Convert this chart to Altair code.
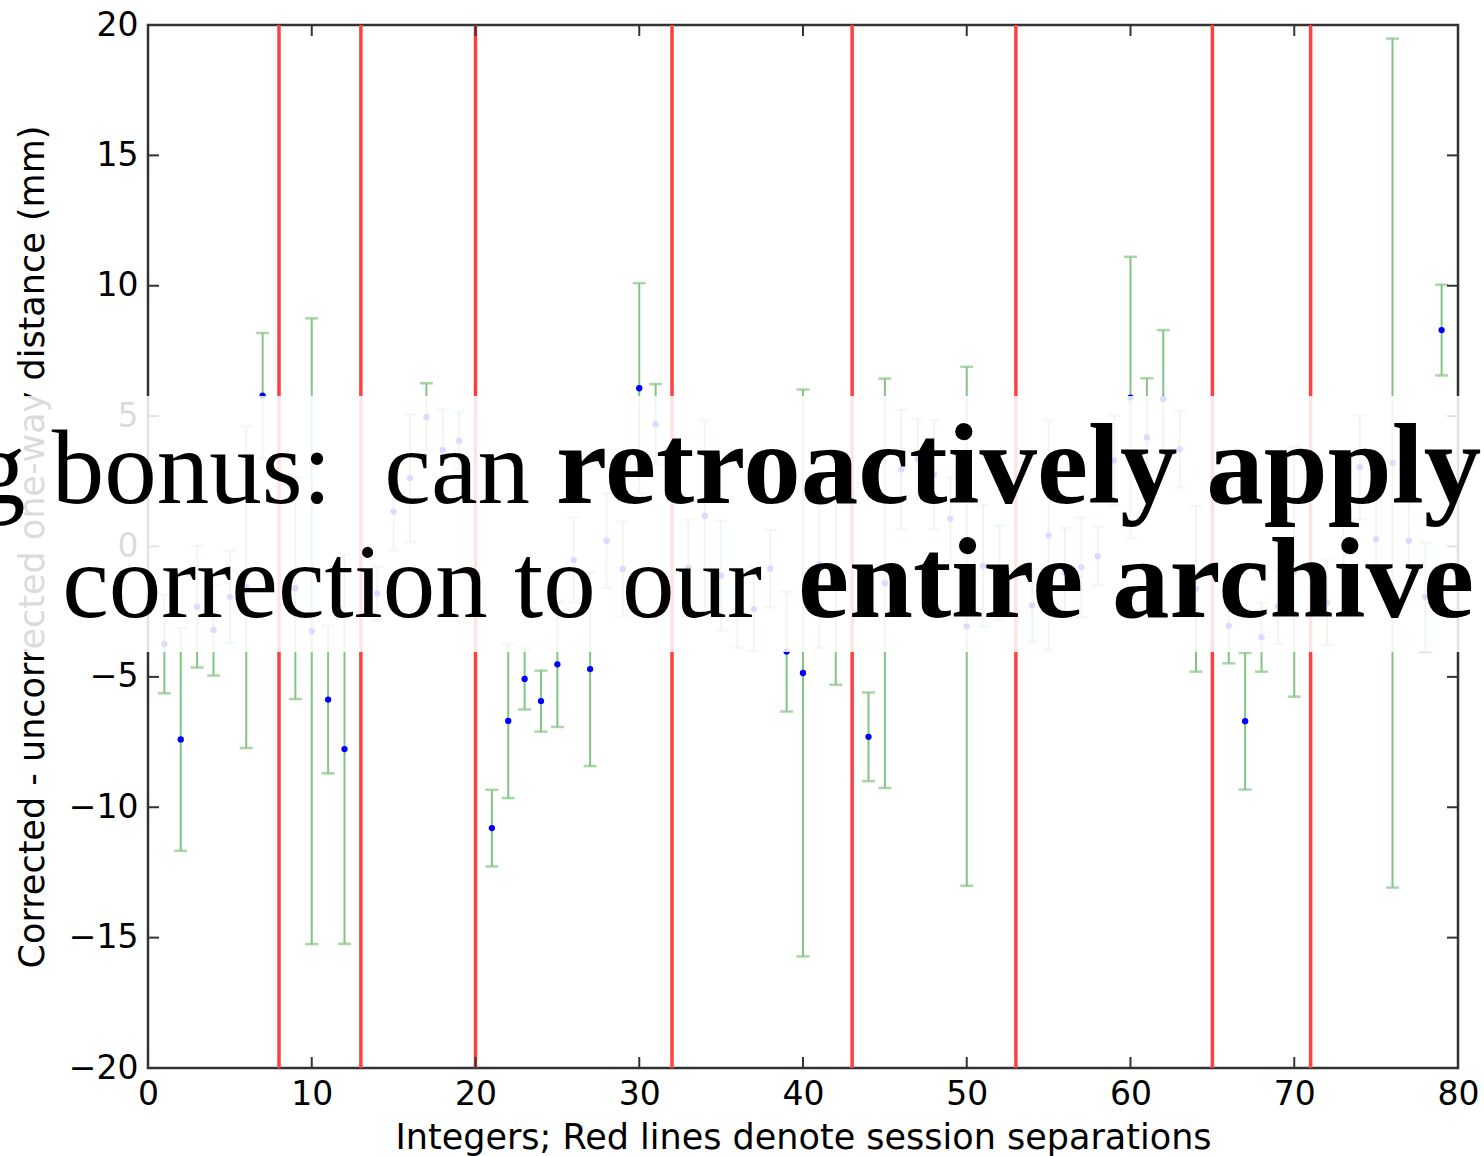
import altair as alt
import pandas as pd

# ---- data ----
x_idx = [1, 2, 3, 4, 5, 6, 7, 9, 10, 11, 12, 14, 15, 16, 17, 18, 19,
         21, 22, 23, 24, 25, 26, 27, 28, 29, 30, 31,
         33, 34, 35, 36, 37, 38, 39, 40, 41, 42,
         44, 45, 46, 47, 48, 49, 50, 51, 52,
         54, 55, 56, 57, 58, 59, 60, 61, 62, 63, 64,
         66, 67, 68, 69, 70,
         72, 73, 74, 75, 76, 77, 78, 79]
y_val = [-3.74, -7.40, -2.31, -3.20, -1.93, -1.56, 5.78, -1.60, -3.25, -5.87, -7.77, -1.80, 1.34, 2.62, 4.97, 3.70, 4.06,
         -10.80, -6.69, -5.08, -5.93, -4.52, -0.52, -4.70, 0.22, -0.86, 6.07, 4.69,
         -0.82, 1.18, -1.12, -2.41, -2.40, -0.85, -4.03, -4.85, -0.68, -1.60,
         -7.30, -1.41, 2.95, 3.36, 2.76, 1.06, -3.06, -0.74, -1.00,
         -2.26, 0.43, -1.00, -0.80, -0.37, 3.30, 5.71, 4.19, 5.66, 3.73, -1.62,
         -3.05, -6.70, -3.48, -2.29, -0.96,
         -2.15, -0.74, 3.04, 0.28, 3.20, 0.22, -1.93, 8.30]
y_err = [1.89, 4.27, 2.33, 1.75, 1.77, 6.17, 2.41, 4.25, 12.00, 2.83, 7.47, 1.03, 1.50, 2.45, 1.29, 1.57, 1.11,
         1.47, 2.96, 1.17, 1.17, 2.40, 1.64, 3.72, 1.82, 1.82, 4.03, 1.54,
         1.85, 3.65, 2.11, 1.47, 1.60, 1.49, 2.30, 10.87, 3.20, 3.70,
         1.70, 7.85, 2.29, 1.52, 2.09, 1.60, 9.95, 2.33, 1.80,
         1.40, 4.40, 1.70, 1.92, 1.13, 1.72, 5.40, 2.26, 2.64, 1.47, 3.18,
         1.43, 2.62, 1.32, 1.45, 4.80,
         1.63, 1.95, 2.00, 1.44, 16.28, 1.80, 2.09, 1.74]
session_breaks = [8, 13, 20, 32, 43, 53, 65, 71]
x_ticks = [0, 10, 20, 30, 40, 50, 60, 70, 80]
y_ticks = [-20, -15, -10, -5, 0, 5, 10, 15, 20]

x_title = "Integers; Red lines denote session separations"
y_title = "Corrected - uncorrected one-way distance (mm)"
line1_regular = "g bonus:\u00a0\u00a0can"
line1_bold = "retroactively apply"
line2_regular = "correction to our"
line2_bold = "entire archive"

# ---- tables built from the arrays ----
pts = pd.DataFrame({"x": x_idx, "y": y_val, "e": y_err})
pts["lo"] = pts["y"] - pts["e"]
pts["hi"] = pts["y"] + pts["e"]
caps = pd.concat([
    pd.DataFrame({"x": pts["x"], "c": pts["lo"]}),
    pd.DataFrame({"x": pts["x"], "c": pts["hi"]}),
])
breaks = pd.DataFrame({"b": session_breaks})
xt = pd.DataFrame({"v": x_ticks})
yt = pd.DataFrame({"v": y_ticks})
one = pd.DataFrame({"k": [0]})

W, H = 1310, 1043
xs = alt.Scale(domain=[0, 80], nice=False, zero=False)
ys = alt.Scale(domain=[-20, 20], nice=False, zero=False)

x_axis = alt.Axis(values=x_ticks, title=x_title, labelFlush=False, labelOverlap=False,
                  ticks=False, domain=False, grid=False, labelPadding=10, titlePadding=9, zindex=0)
y_axis = alt.Axis(values=y_ticks, title=y_title, labelFlush=False, labelOverlap=False,
                  ticks=False, domain=False, grid=False, labelPadding=10, titlePadding=18, zindex=0)

red = alt.Chart(breaks).mark_rule(color="#ff4040", strokeWidth=3.5).encode(
    x=alt.X("b:Q", scale=xs, axis=x_axis),
    y=alt.value(0), y2=alt.value(H),
)

bars = alt.Chart(pts).mark_rule(color="#84c484", strokeWidth=2).encode(
    x=alt.X("x:Q", scale=xs),
    y=alt.Y("lo:Q", scale=ys, axis=y_axis),
    y2="hi:Q",
)

cap_marks = alt.Chart(caps).mark_tick(color="#84c484", orient="horizontal", size=13, thickness=2.5).encode(
    x=alt.X("x:Q", scale=xs),
    y=alt.Y("c:Q", scale=ys),
)

dots = alt.Chart(pts).mark_circle(color="#0000ff", opacity=1, size=40).encode(
    x=alt.X("x:Q", scale=xs),
    y=alt.Y("y:Q", scale=ys),
)

tick_col = "#333333"
tb = alt.Chart(xt).mark_rule(color=tick_col, strokeWidth=2).encode(
    x=alt.X("v:Q", scale=xs), y=alt.value(H), y2=alt.value(H - 11))
tt = alt.Chart(xt).mark_rule(color=tick_col, strokeWidth=2).encode(
    x=alt.X("v:Q", scale=xs), y=alt.value(0), y2=alt.value(11))
tl = alt.Chart(yt).mark_rule(color=tick_col, strokeWidth=2).encode(
    y=alt.Y("v:Q", scale=ys), x=alt.value(0), x2=alt.value(11))
tr = alt.Chart(yt).mark_rule(color=tick_col, strokeWidth=2).encode(
    y=alt.Y("v:Q", scale=ys), x=alt.value(W), x2=alt.value(W - 11))

band = alt.Chart(one).mark_rect(color="white", opacity=0.86).encode(
    x=alt.value(-148), x2=alt.value(W + 26), y=alt.value(371), y2=alt.value(627))

def txt(s, xpos, ypos, align, weight, size):
    return alt.Chart(one).mark_text(
        text=s, align=align, baseline="alphabetic", font="Liberation Serif",
        fontWeight=weight, fontSize=size, color="black"
    ).encode(x=alt.value(xpos), y=alt.value(ypos))

t1a = txt(line1_regular, 382, 478, "right", "normal", 105)
t1b = txt(line1_bold, 408, 478, "left", "bold", 115)
t2a = txt(line2_regular, 614, 592, "right", "normal", 105)
t2b = txt(line2_bold, 650, 592, "left", "bold", 115)

chart = alt.layer(red, bars, cap_marks, dots, tb, tt, tl, tr, band, t1a, t1b, t2a, t2b).properties(
    width=W, height=H,
    autosize=alt.AutoSizeParams(type="none"),
    padding={"left": 148, "top": 25, "right": 26, "bottom": 88},
    background="white",
).configure_view(
    stroke="#333333", strokeWidth=2.5
).configure_axis(
    labelFont="DejaVu Sans", labelFontSize=33, labelColor="black",
    titleFont="DejaVu Sans", titleFontSize=35, titleFontWeight="normal", titleColor="black",
)

chart.save("out.html", embed_options={"renderer": "svg", "actions": False})
